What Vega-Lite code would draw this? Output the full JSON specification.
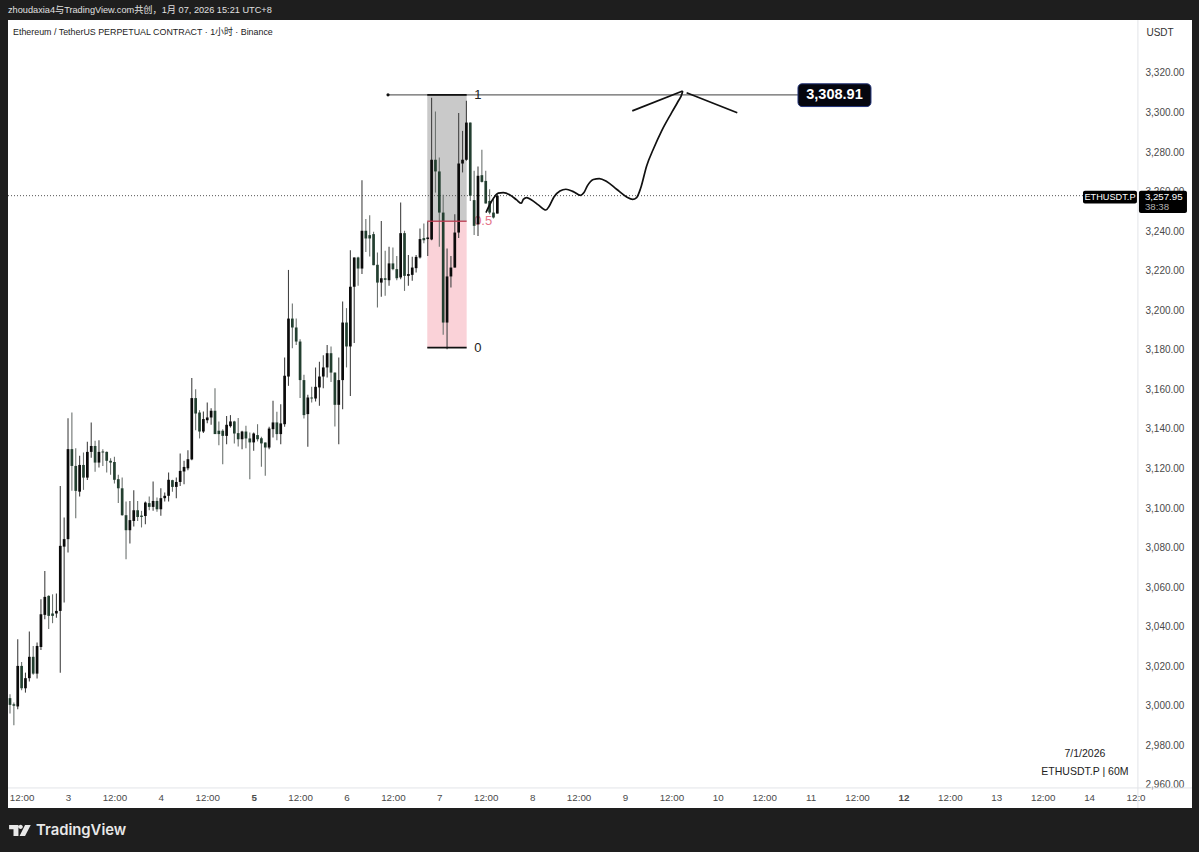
{"$schema":"https://vega.github.io/schema/vega-lite/v6.json","width":1184,"height":788,"autosize":{"type":"none"},"padding":{"left":8,"top":20,"right":7,"bottom":44},"background":"#1e1e1e","view":{"fill":"#ffffff","stroke":null},
"title":{"text":"zhoudaxia4与TradingView.com共创，1月 07, 2026 15:21 UTC+8","anchor":"start","frame":"group","offset":4,"fontSize":9.2,"fontWeight":"normal","color":"#e0e0e0","font":"Liberation Sans, Noto Sans CJK SC"},
"config":{"font":"Liberation Sans"},
"datasets":{"ohlc":[
{"t":"2026-01-02T09:00","o":3003.9,"h":3005.9,"l":2996.1,"c":3000.5},
{"t":"2026-01-02T10:00","o":3000.8,"h":3001.7,"l":2990.2,"c":3000.0},
{"t":"2026-01-02T11:00","o":2999.7,"h":3033.7,"l":2998.3,"c":3020.2},
{"t":"2026-01-02T12:00","o":3020.2,"h":3022.2,"l":3007.9,"c":3008.9},
{"t":"2026-01-02T13:00","o":3008.9,"h":3016.8,"l":3006.7,"c":3014.0},
{"t":"2026-01-02T14:00","o":3014.0,"h":3037.6,"l":3012.3,"c":3024.8},
{"t":"2026-01-02T15:00","o":3024.8,"h":3030.3,"l":3015.7,"c":3016.3},
{"t":"2026-01-02T16:00","o":3016.3,"h":3032.0,"l":3013.8,"c":3030.3},
{"t":"2026-01-02T17:00","o":3029.8,"h":3053.9,"l":3028.3,"c":3046.3},
{"t":"2026-01-02T18:00","o":3046.0,"h":3068.2,"l":3043.8,"c":3055.1},
{"t":"2026-01-02T19:00","o":3055.6,"h":3055.9,"l":3038.8,"c":3045.5},
{"t":"2026-01-02T20:00","o":3046.7,"h":3056.4,"l":3041.8,"c":3045.5},
{"t":"2026-01-02T21:00","o":3046.7,"h":3056.8,"l":3044.6,"c":3048.0},
{"t":"2026-01-02T22:00","o":3048.0,"h":3111.2,"l":3016.8,"c":3080.9},
{"t":"2026-01-02T23:00","o":3080.5,"h":3095.2,"l":3052.2,"c":3084.3},
{"t":"2026-01-03T00:00","o":3084.3,"h":3145.4,"l":3077.5,"c":3129.8},
{"t":"2026-01-03T01:00","o":3129.8,"h":3148.3,"l":3108.7,"c":3121.3},
{"t":"2026-01-03T02:00","o":3121.3,"h":3130.3,"l":3094.9,"c":3108.7},
{"t":"2026-01-03T03:00","o":3108.3,"h":3126.4,"l":3105.8,"c":3121.8},
{"t":"2026-01-03T04:00","o":3121.8,"h":3128.1,"l":3109.2,"c":3115.4},
{"t":"2026-01-03T05:00","o":3115.4,"h":3133.5,"l":3114.2,"c":3128.4},
{"t":"2026-01-03T06:00","o":3128.4,"h":3143.2,"l":3125.5,"c":3131.4},
{"t":"2026-01-03T07:00","o":3131.4,"h":3134.0,"l":3118.3,"c":3123.0},
{"t":"2026-01-03T08:00","o":3123.0,"h":3134.3,"l":3120.5,"c":3128.4},
{"t":"2026-01-03T09:00","o":3128.6,"h":3129.8,"l":3121.3,"c":3128.1},
{"t":"2026-01-03T10:00","o":3128.4,"h":3128.6,"l":3118.0,"c":3123.9},
{"t":"2026-01-03T11:00","o":3123.9,"h":3125.2,"l":3116.8,"c":3123.0},
{"t":"2026-01-03T12:00","o":3123.3,"h":3125.9,"l":3112.4,"c":3114.3},
{"t":"2026-01-03T13:00","o":3114.6,"h":3116.8,"l":3102.5,"c":3110.0},
{"t":"2026-01-03T14:00","o":3110.0,"h":3115.4,"l":3096.1,"c":3096.4},
{"t":"2026-01-03T15:00","o":3096.4,"h":3103.3,"l":3074.1,"c":3088.8},
{"t":"2026-01-03T16:00","o":3088.8,"h":3103.6,"l":3082.1,"c":3093.9},
{"t":"2026-01-03T17:00","o":3093.5,"h":3109.0,"l":3090.7,"c":3098.9},
{"t":"2026-01-03T18:00","o":3098.9,"h":3103.6,"l":3093.5,"c":3095.5},
{"t":"2026-01-03T19:00","o":3096.2,"h":3098.6,"l":3090.2,"c":3095.5},
{"t":"2026-01-03T20:00","o":3096.0,"h":3103.3,"l":3091.8,"c":3102.8},
{"t":"2026-01-03T21:00","o":3102.5,"h":3105.8,"l":3098.9,"c":3100.6},
{"t":"2026-01-03T22:00","o":3100.6,"h":3113.4,"l":3098.6,"c":3103.6},
{"t":"2026-01-03T23:00","o":3103.6,"h":3105.3,"l":3098.2,"c":3099.4},
{"t":"2026-01-04T00:00","o":3099.4,"h":3110.0,"l":3096.1,"c":3105.0},
{"t":"2026-01-04T01:00","o":3105.0,"h":3107.9,"l":3103.3,"c":3106.2},
{"t":"2026-01-04T02:00","o":3106.2,"h":3118.0,"l":3103.3,"c":3114.3},
{"t":"2026-01-04T03:00","o":3114.1,"h":3114.3,"l":3108.3,"c":3110.7},
{"t":"2026-01-04T04:00","o":3110.7,"h":3115.4,"l":3105.0,"c":3113.2},
{"t":"2026-01-04T05:00","o":3113.2,"h":3127.6,"l":3111.2,"c":3118.8},
{"t":"2026-01-04T06:00","o":3118.5,"h":3123.9,"l":3112.1,"c":3120.8},
{"t":"2026-01-04T07:00","o":3120.1,"h":3129.2,"l":3119.1,"c":3124.7},
{"t":"2026-01-04T08:00","o":3124.6,"h":3165.7,"l":3124.2,"c":3155.6},
{"t":"2026-01-04T09:00","o":3155.6,"h":3160.1,"l":3139.4,"c":3147.8},
{"t":"2026-01-04T10:00","o":3148.3,"h":3149.5,"l":3135.2,"c":3138.7},
{"t":"2026-01-04T11:00","o":3138.7,"h":3148.8,"l":3137.9,"c":3145.0},
{"t":"2026-01-04T12:00","o":3144.4,"h":3153.4,"l":3142.9,"c":3145.8},
{"t":"2026-01-04T13:00","o":3145.8,"h":3150.5,"l":3142.1,"c":3149.2},
{"t":"2026-01-04T14:00","o":3149.2,"h":3160.6,"l":3137.4,"c":3137.4},
{"t":"2026-01-04T15:00","o":3139.1,"h":3143.8,"l":3131.8,"c":3137.4},
{"t":"2026-01-04T16:00","o":3139.1,"h":3139.9,"l":3122.2,"c":3136.5},
{"t":"2026-01-04T17:00","o":3136.5,"h":3146.6,"l":3132.3,"c":3142.1},
{"t":"2026-01-04T18:00","o":3141.4,"h":3147.0,"l":3140.7,"c":3143.8},
{"t":"2026-01-04T19:00","o":3143.8,"h":3144.1,"l":3132.7,"c":3137.7},
{"t":"2026-01-04T20:00","o":3137.9,"h":3145.5,"l":3131.1,"c":3134.8},
{"t":"2026-01-04T21:00","o":3134.8,"h":3139.1,"l":3129.8,"c":3138.7},
{"t":"2026-01-04T22:00","o":3138.7,"h":3141.6,"l":3130.3,"c":3135.2},
{"t":"2026-01-04T23:00","o":3135.2,"h":3138.2,"l":3114.6,"c":3133.2},
{"t":"2026-01-05T00:00","o":3133.2,"h":3138.2,"l":3129.0,"c":3137.7},
{"t":"2026-01-05T01:00","o":3136.9,"h":3142.4,"l":3133.7,"c":3134.8},
{"t":"2026-01-05T02:00","o":3135.3,"h":3136.0,"l":3120.9,"c":3132.7},
{"t":"2026-01-05T03:00","o":3133.2,"h":3133.2,"l":3116.3,"c":3130.6},
{"t":"2026-01-05T04:00","o":3130.6,"h":3141.1,"l":3129.8,"c":3140.2},
{"t":"2026-01-05T05:00","o":3139.9,"h":3154.2,"l":3135.7,"c":3143.3},
{"t":"2026-01-05T06:00","o":3143.3,"h":3148.7,"l":3134.3,"c":3137.4},
{"t":"2026-01-05T07:00","o":3137.4,"h":3152.5,"l":3132.3,"c":3142.8},
{"t":"2026-01-05T08:00","o":3142.4,"h":3176.1,"l":3141.1,"c":3166.9},
{"t":"2026-01-05T09:00","o":3166.5,"h":3220.4,"l":3161.8,"c":3195.8},
{"t":"2026-01-05T10:00","o":3195.8,"h":3203.4,"l":3180.8,"c":3191.3},
{"t":"2026-01-05T11:00","o":3191.3,"h":3195.8,"l":3182.5,"c":3184.2},
{"t":"2026-01-05T12:00","o":3184.2,"h":3185.4,"l":3155.6,"c":3164.7},
{"t":"2026-01-05T13:00","o":3164.7,"h":3167.4,"l":3145.3,"c":3147.0},
{"t":"2026-01-05T14:00","o":3147.5,"h":3157.3,"l":3131.0,"c":3155.9},
{"t":"2026-01-05T15:00","o":3155.9,"h":3161.3,"l":3153.4,"c":3155.4},
{"t":"2026-01-05T16:00","o":3155.4,"h":3171.1,"l":3153.9,"c":3161.3},
{"t":"2026-01-05T17:00","o":3161.0,"h":3174.0,"l":3151.7,"c":3166.5},
{"t":"2026-01-05T18:00","o":3166.5,"h":3177.3,"l":3160.6,"c":3171.1},
{"t":"2026-01-05T19:00","o":3171.1,"h":3182.5,"l":3166.0,"c":3178.3},
{"t":"2026-01-05T20:00","o":3178.3,"h":3181.7,"l":3163.8,"c":3168.5},
{"t":"2026-01-05T21:00","o":3168.5,"h":3168.5,"l":3141.3,"c":3152.2},
{"t":"2026-01-05T22:00","o":3152.2,"h":3176.1,"l":3132.3,"c":3164.7},
{"t":"2026-01-05T23:00","o":3164.7,"h":3204.4,"l":3150.0,"c":3193.8},
{"t":"2026-01-06T00:00","o":3193.8,"h":3201.1,"l":3171.1,"c":3181.7},
{"t":"2026-01-06T01:00","o":3181.7,"h":3230.4,"l":3156.7,"c":3211.9},
{"t":"2026-01-06T02:00","o":3211.9,"h":3226.7,"l":3183.4,"c":3226.7},
{"t":"2026-01-06T03:00","o":3226.7,"h":3227.0,"l":3212.4,"c":3221.1},
{"t":"2026-01-06T04:00","o":3221.1,"h":3265.8,"l":3218.3,"c":3240.2},
{"t":"2026-01-06T05:00","o":3240.2,"h":3246.1,"l":3229.5,"c":3236.3},
{"t":"2026-01-06T06:00","o":3238.0,"h":3248.1,"l":3227.2,"c":3236.3},
{"t":"2026-01-06T07:00","o":3238.5,"h":3239.7,"l":3222.8,"c":3222.8},
{"t":"2026-01-06T08:00","o":3223.0,"h":3229.2,"l":3201.4,"c":3214.0},
{"t":"2026-01-06T09:00","o":3214.0,"h":3245.2,"l":3206.8,"c":3216.2},
{"t":"2026-01-06T10:00","o":3216.2,"h":3230.1,"l":3207.3,"c":3215.4},
{"t":"2026-01-06T11:00","o":3215.2,"h":3232.1,"l":3212.4,"c":3223.7},
{"t":"2026-01-06T12:00","o":3223.7,"h":3231.7,"l":3220.3,"c":3220.8},
{"t":"2026-01-06T13:00","o":3220.8,"h":3227.5,"l":3215.2,"c":3216.2},
{"t":"2026-01-06T14:00","o":3216.6,"h":3254.5,"l":3215.7,"c":3239.0},
{"t":"2026-01-06T15:00","o":3239.0,"h":3240.2,"l":3209.8,"c":3217.4},
{"t":"2026-01-06T16:00","o":3217.4,"h":3228.0,"l":3212.4,"c":3218.3},
{"t":"2026-01-06T17:00","o":3217.9,"h":3227.0,"l":3214.9,"c":3221.6},
{"t":"2026-01-06T18:00","o":3221.3,"h":3228.0,"l":3219.1,"c":3227.0},
{"t":"2026-01-06T19:00","o":3226.7,"h":3241.3,"l":3226.2,"c":3236.0},
{"t":"2026-01-06T20:00","o":3236.5,"h":3243.9,"l":3233.9,"c":3235.4},
{"t":"2026-01-06T21:00","o":3236.0,"h":3244.9,"l":3227.5,"c":3236.8},
{"t":"2026-01-06T22:00","o":3235.8,"h":3307.4,"l":3235.4,"c":3276.1},
{"t":"2026-01-06T23:00","o":3276.1,"h":3300.5,"l":3259.5,"c":3270.2},
{"t":"2026-01-07T00:00","o":3270.2,"h":3277.2,"l":3232.1,"c":3249.4},
{"t":"2026-01-07T01:00","o":3249.4,"h":3258.4,"l":3187.6,"c":3193.8},
{"t":"2026-01-07T02:00","o":3193.8,"h":3231.2,"l":3180.3,"c":3217.1},
{"t":"2026-01-07T03:00","o":3217.1,"h":3227.5,"l":3211.5,"c":3221.6},
{"t":"2026-01-07T04:00","o":3221.6,"h":3248.6,"l":3221.6,"c":3239.3},
{"t":"2026-01-07T05:00","o":3239.3,"h":3299.7,"l":3236.5,"c":3274.2},
{"t":"2026-01-07T06:00","o":3274.2,"h":3290.7,"l":3269.7,"c":3276.1},
{"t":"2026-01-07T07:00","o":3276.1,"h":3305.9,"l":3275.6,"c":3294.9},
{"t":"2026-01-07T08:00","o":3294.9,"h":3294.9,"l":3255.3,"c":3257.9},
{"t":"2026-01-07T09:00","o":3255.7,"h":3270.5,"l":3238.1,"c":3242.7},
{"t":"2026-01-07T10:00","o":3243.5,"h":3272.7,"l":3237.6,"c":3268.0},
{"t":"2026-01-07T11:00","o":3268.3,"h":3281.1,"l":3264.6,"c":3264.9},
{"t":"2026-01-07T12:00","o":3265.4,"h":3270.5,"l":3254.0,"c":3254.0},
{"t":"2026-01-07T13:00","o":3255.3,"h":3261.2,"l":3248.6,"c":3249.4},
{"t":"2026-01-07T14:00","o":3249.4,"h":3257.0,"l":3246.4,"c":3246.9},
{"t":"2026-01-07T15:00","o":3248.9,"h":3258.7,"l":3248.9,"c":3257.95}
]},
"encoding":{
"x":{"field":"t","type":"temporal","scale":{"domain":["2026-01-02T08:29","2026-01-15T02:36"],"nice":false,"padding":0},
"axis":{"orient":"bottom","offset":-21,"title":null,"domain":false,"ticks":false,"grid":false,"labelPadding":5,"labelFontSize":9.8,"labelColor":"#4a4a4a","labelFont":"Liberation Sans","labelOverlap":false,"labelBound":false,"labelFlush":false,
"values":["2026-01-02T12:00","2026-01-03T00:00","2026-01-03T12:00","2026-01-04T00:00","2026-01-04T12:00","2026-01-05T00:00","2026-01-05T12:00","2026-01-06T00:00","2026-01-06T12:00","2026-01-07T00:00","2026-01-07T12:00","2026-01-08T00:00","2026-01-08T12:00","2026-01-09T00:00","2026-01-09T12:00","2026-01-10T00:00","2026-01-10T12:00","2026-01-11T00:00","2026-01-11T12:00","2026-01-12T00:00","2026-01-12T12:00","2026-01-13T00:00","2026-01-13T12:00","2026-01-14T00:00","2026-01-14T12:00"],
"labelExpr":"hours(datum.value)==12 ? (date(datum.value)==14 ? '12:0\u2007' : '12:00') : ''+date(datum.value)",
"labelFontWeight":{"expr":"(hours(datum.value)==0 && (date(datum.value)==5 || date(datum.value)==12)) ? 'bold' : 'normal'"}}},
"y":{"field":"p","type":"quantitative","scale":{"domain":[2948.36,3346.76],"nice":false,"zero":false},
"axis":{"orient":"right","offset":-54,"title":null,"domain":false,"ticks":false,"grid":false,"labelPadding":7,"labelFontSize":10,"labelColor":"#4a4a4a","labelFont":"Liberation Sans","format":",.2f","labelOverlap":false,"labelBound":false,"labelFlush":false,
"values":[2960,2980,3000,3020,3040,3060,3080,3100,3120,3140,3160,3180,3200,3220,3240,3260,3280,3300,3320]}}
},
"layer":[
{"data":{"values":[{"t":"2026-01-14T12:37","t2":"2026-01-14T12:37","p":3346.76,"p2":2948.36},{"t":"2026-01-02T08:29","t2":"2026-01-15T02:36","p":2958.5,"p2":2958.5}]},"mark":{"type":"rule","color":"#e2e4e8","strokeWidth":1},"encoding":{"x2":{"field":"t2"},"y2":{"field":"p2"}}},
{"data":{"values":[{"t":"2026-01-06T20:53","t2":"2026-01-07T07:04","p":3308.91,"p2":3245.0}]},"mark":{"type":"rect","color":"#c9c9c9"},"encoding":{"x2":{"field":"t2"},"y2":{"field":"p2"}}},
{"data":{"values":[{"t":"2026-01-06T20:53","t2":"2026-01-07T07:04","p":3245.0,"p2":3181.1}]},"mark":{"type":"rect","color":"#fad2d8"},"encoding":{"x2":{"field":"t2"},"y2":{"field":"p2"}}},
{"data":{"values":[{"t":"2026-01-06T10:44","t2":"2026-01-10T20:44","p":3308.91}]},"mark":{"type":"rule","color":"#666666","strokeWidth":1.2},"encoding":{"x2":{"field":"t2"}}},
{"data":{"values":[{"t":"2026-01-02T08:29","t2":"2026-01-13T22:25","p":3257.95}]},"mark":{"type":"rule","color":"#555555","strokeWidth":1,"strokeDash":[1,2]},"encoding":{"x2":{"field":"t2"}}},
{"data":{"values":[{"t":"2026-01-07T09:00","p":3308.91,"label":"1"},{"t":"2026-01-07T09:00","p":3181.1,"label":"0"}]},"mark":{"type":"text","align":"left","baseline":"middle","fontSize":13,"color":"#222222","font":"Liberation Sans"},"encoding":{"text":{"field":"label"}}},
{"data":{"values":[{"t":"2026-01-07T09:00","p":3245.0,"label":"0.5"}]},"mark":{"type":"text","align":"left","baseline":"middle","fontSize":13,"color":"#e4758a","font":"Liberation Sans"},"encoding":{"text":{"field":"label"}}},
{"data":{"name":"ohlc"},"mark":{"type":"rule","strokeWidth":1.1},"encoding":{"y":{"field":"l","type":"quantitative","axis":{"orient":"right","offset":-54,"title":null,"domain":false,"ticks":false,"grid":false,"labelPadding":7,"labelFontSize":10,"labelColor":"#4a4a4a","labelFont":"Liberation Sans","format":",.2f","labelOverlap":false,"labelBound":false,"labelFlush":false,"values":[2960,2980,3000,3020,3040,3060,3080,3100,3120,3140,3160,3180,3200,3220,3240,3260,3280,3300,3320]}},"y2":{"field":"h"},"color":{"condition":{"test":"datum.c>=datum.o","value":"#444444"},"value":"#6d7370"}}},
{"data":{"name":"ohlc"},"mark":{"type":"bar","size":2.7,"orient":"vertical"},"encoding":{"y":{"field":"o","type":"quantitative","axis":{"orient":"right","offset":-54,"title":null,"domain":false,"ticks":false,"grid":false,"labelPadding":7,"labelFontSize":10,"labelColor":"#4a4a4a","labelFont":"Liberation Sans","format":",.2f","labelOverlap":false,"labelBound":false,"labelFlush":false,"values":[2960,2980,3000,3020,3040,3060,3080,3100,3120,3140,3160,3180,3200,3220,3240,3260,3280,3300,3320]}},"y2":{"field":"c"},"color":{"condition":{"test":"datum.c>=datum.o","value":"#0b0b0b"},"value":"#233f30"}}},
{"data":{"values":[{"t":"2026-01-06T20:53","t2":"2026-01-07T07:04","p":3308.91},{"t":"2026-01-06T20:53","t2":"2026-01-07T07:04","p":3181.1}]},"mark":{"type":"rule","color":"#111111","strokeWidth":1.6},"encoding":{"x2":{"field":"t2"}}},
{"data":{"values":[{"t":"2026-01-06T20:53","t2":"2026-01-07T07:04","p":3245.0}]},"mark":{"type":"rule","color":"#b8384e","strokeWidth":1.6,"opacity":0.85},"encoding":{"x2":{"field":"t2"}}},
{"data":{"values":[{"t":"2026-01-06T10:44","p":3308.91}]},"mark":{"type":"point","filled":true,"color":"#111111","size":10,"opacity":1}},
{"data":{"values":[
{"t":"2026-01-07T12:04","p":3249.4,"stroke":"curve"},{"t":"2026-01-07T13:06","p":3253.6,"stroke":"curve"},{"t":"2026-01-07T14:08","p":3257.0,"stroke":"curve"},{"t":"2026-01-07T15:15","p":3259.2,"stroke":"curve"},{"t":"2026-01-07T16:32","p":3259.5,"stroke":"curve"},{"t":"2026-01-07T18:16","p":3258.3,"stroke":"curve"},{"t":"2026-01-07T19:59","p":3255.8,"stroke":"curve"},{"t":"2026-01-07T21:12","p":3254.1,"stroke":"curve"},{"t":"2026-01-07T21:43","p":3256.1,"stroke":"curve"},{"t":"2026-01-07T22:35","p":3257.0,"stroke":"curve"},{"t":"2026-01-07T23:52","p":3255.8,"stroke":"curve"},{"t":"2026-01-08T01:35","p":3253.3,"stroke":"curve"},{"t":"2026-01-08T03:34","p":3250.7,"stroke":"curve"},{"t":"2026-01-08T04:26","p":3252.7,"stroke":"curve"},{"t":"2026-01-08T05:38","p":3257.3,"stroke":"curve"},{"t":"2026-01-08T07:11","p":3260.3,"stroke":"curve"},{"t":"2026-01-08T08:44","p":3261.2,"stroke":"curve"},{"t":"2026-01-08T10:38","p":3260.0,"stroke":"curve"},{"t":"2026-01-08T12:32","p":3258.1,"stroke":"curve"},{"t":"2026-01-08T13:24","p":3259.5,"stroke":"curve"},{"t":"2026-01-08T14:16","p":3262.9,"stroke":"curve"},{"t":"2026-01-08T15:49","p":3266.1,"stroke":"curve"},{"t":"2026-01-08T17:22","p":3266.6,"stroke":"curve"},{"t":"2026-01-08T19:16","p":3265.1,"stroke":"curve"},{"t":"2026-01-08T21:50","p":3261.2,"stroke":"curve"},{"t":"2026-01-09T00:26","p":3257.3,"stroke":"curve"},{"t":"2026-01-09T01:59","p":3256.1,"stroke":"curve"},{"t":"2026-01-09T03:01","p":3257.0,"stroke":"curve"},{"t":"2026-01-09T04:03","p":3261.7,"stroke":"curve"},{"t":"2026-01-09T05:36","p":3273.0,"stroke":"curve"},{"t":"2026-01-09T07:19","p":3281.4,"stroke":"curve"},{"t":"2026-01-09T09:29","p":3290.7,"stroke":"curve"},{"t":"2026-01-09T12:04","p":3299.9,"stroke":"curve"},{"t":"2026-01-09T13:47","p":3305.8,"stroke":"curve"},{"t":"2026-01-09T14:44","p":3309.5,"stroke":"curve"},{"t":"2026-01-09T14:55","p":3310.9,"stroke":"curve"},
{"t":"2026-01-09T01:53","p":3300.8,"stroke":"left"},{"t":"2026-01-09T14:55","p":3310.9,"stroke":"left"},
{"t":"2026-01-09T15:56","p":3310.0,"stroke":"right"},{"t":"2026-01-10T05:02","p":3299.9,"stroke":"right"}
]},"mark":{"type":"line","color":"#111111","strokeWidth":1.7,"interpolate":"monotone"},"encoding":{"detail":{"field":"stroke"}}},
{"data":{"values":[{"t":"2026-01-10T20:44","t2":"2026-01-11T15:36","p":3314.5,"p2":3303.0}]},"mark":{"type":"rect","color":"#05060f","stroke":"#22337a","strokeWidth":1,"cornerRadius":4},"encoding":{"x2":{"field":"t2"},"y2":{"field":"p2"}}},
{"data":{"values":[{"t":"2026-01-11T06:10","p":3308.91,"label":"3,308.91"}]},"mark":{"type":"text","align":"center","baseline":"middle","fontSize":14.5,"fontWeight":"bold","color":"#ffffff","font":"Liberation Sans"},"encoding":{"text":{"field":"label"}}},
{"data":{"values":[{"t":"2026-01-13T22:25","t2":"2026-01-14T12:22","p":3260.4,"p2":3254.0},{"t":"2026-01-14T12:53","t2":"2026-01-15T01:18","p":3260.4,"p2":3249.2}]},"mark":{"type":"rect","color":"#000000","cornerRadius":2},"encoding":{"x2":{"field":"t2"},"y2":{"field":"p2"}}},
{"data":{"values":[{"t":"2026-01-14T05:24","p":3257.2,"label":"ETHUSDT.P"}]},"mark":{"type":"text","align":"center","baseline":"middle","fontSize":9.2,"color":"#ffffff","font":"Liberation Sans"},"encoding":{"text":{"field":"label"}}},
{"data":{"values":[{"t":"2026-01-14T14:25","p":3257.2,"label":"3,257.95"}]},"mark":{"type":"text","align":"left","baseline":"middle","fontSize":9.7,"color":"#ffffff","font":"Liberation Sans"},"encoding":{"text":{"field":"label"}}},
{"data":{"values":[{"t":"2026-01-14T14:25","p":3252.2,"label":"38:38"}]},"mark":{"type":"text","align":"left","baseline":"middle","fontSize":9.7,"color":"#b0b0b0","font":"Liberation Sans"},"encoding":{"text":{"field":"label"}}},
{"data":{"values":[{"t":"2026-01-02T09:47","p":3340.7,"label":"Ethereum / TetherUS PERPETUAL CONTRACT · 1小时 · Binance"}]},"mark":{"type":"text","align":"left","baseline":"middle","fontSize":8.9,"color":"#222222","font":"Liberation Sans, Noto Sans CJK SC"},"encoding":{"text":{"field":"label"}}},
{"data":{"values":[{"t":"2026-01-14T18:20","p":3340.2,"label":"USDT"}]},"mark":{"type":"text","align":"center","baseline":"middle","fontSize":10,"color":"#333333","font":"Liberation Sans"},"encoding":{"text":{"field":"label"}}},
{"data":{"values":[{"t":"2026-01-13T22:55","p":2975.7,"label":"7/1/2026"},{"t":"2026-01-13T22:55","p":2966.6,"label":"ETHUSDT.P | 60M"}]},"mark":{"type":"text","align":"center","baseline":"middle","fontSize":10.5,"color":"#222222","font":"Liberation Sans"},"encoding":{"text":{"field":"label"}}},
{"data":{"values":[{"t":"2026-01-02T11:28","p":2937.0}]},"mark":{"type":"point","filled":true,"color":"#e8e8e8","opacity":1,"size":484,"shape":"M-0.95,-0.5 H-0.1 V0.5 H-0.55 V-0.12 H-0.95 Z M0.3,-0.33 A0.2,0.2 0 1 1 -0.1,-0.33 A0.2,0.2 0 1 1 0.3,-0.33 Z M0.5,-0.5 H1.02 L0.5,0.5 H0 Z"}},
{"data":{"values":[{"t":"2026-01-02T15:44","p":2936.8,"label":"TradingView"}]},"mark":{"type":"text","align":"left","baseline":"middle","fontSize":14.8,"fontWeight":600,"color":"#e8e8e8","font":"Inter"},"encoding":{"text":{"field":"label"}}}
]}
